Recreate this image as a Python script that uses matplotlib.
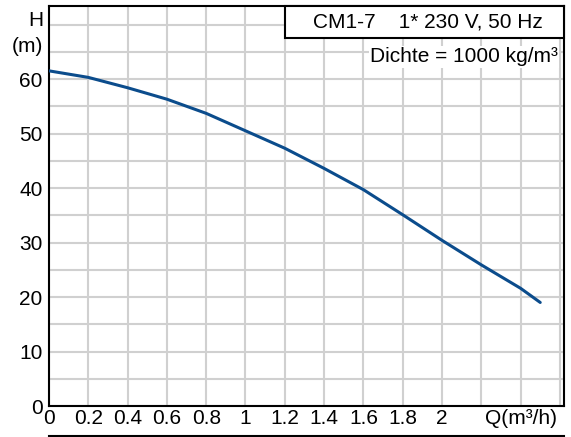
import matplotlib
matplotlib.use('Agg')
import matplotlib.pyplot as plt
from matplotlib.lines import Line2D
from matplotlib.patches import Rectangle

plt.rcParams['font.family'] = ['Liberation Sans', 'DejaVu Sans']
plt.rcParams['font.size'] = 15

# Kennlinie CM1-7
q = [0, 0.2, 0.4, 0.6, 0.8, 1.0, 1.2, 1.4, 1.6, 1.8, 2.0, 2.2, 2.4, 2.5]
h = [61.5, 60.3, 58.4, 56.3, 53.7, 50.5, 47.3, 43.6, 39.7, 35.1, 30.4, 25.9, 21.6, 19.0]

xTicks = [0, 0.2, 0.4, 0.6, 0.8, 1.0, 1.2, 1.4, 1.6, 1.8, 2.0, 2.2, 2.4, 2.6]
xLabels = ['0', '0.2', '0.4', '0.6', '0.8', '1', '1.2', '1.4', '1.6', '1.8', '2', '', 'Q(m³/h)', '']
yTicks = [0, 5, 10, 15, 20, 25, 30, 35, 40, 45, 50, 55, 60, 65, 70]
yLabels = ['0', '', '10', '', '20', '', '30', '', '40', '', '50', '', '60', '', '']

title = 'CM1-7    1* 230 V, 50 Hz'
density = 'Dichte = 1000 kg/m³'

W, H = 571, 437
fig = plt.figure(figsize=(W / 100, H / 100), dpi=100)
ax = fig.add_axes([49 / W, (H - 406) / H, (564 - 49) / W, (406 - 6) / H])

ax.plot(q, h, color='#0b4c8c', lw=2.2, solid_capstyle='round', zorder=3)

ax.set_xlim(0, 2.621)
ax.set_ylim(0, 73.4)
ax.set_xticks(xTicks)
ax.set_xticklabels(xLabels)
ax.set_yticks(yTicks)
ax.set_yticklabels(yLabels)
ax.tick_params(axis='y', length=0, pad=4.5, labelsize=15)
ax.tick_params(axis='x', length=0, pad=2.5, labelsize=15)
ax.grid(True, color='#d0d0d0', lw=1.5, zorder=0)
ax.set_axisbelow(True)
for s in ax.spines.values():
    s.set_linewidth(1.5)
    s.set_color('black')

# H (m) oben links
fig.text(43 / W, 1 - 20 / H, 'H', ha='right', va='center', fontsize=15)
fig.text(43 / W, 1 - 46 / H, '(m)', ha='right', va='center', fontsize=15)

# Kasten oben rechts
box = Rectangle((285 / W, 1 - 38 / H), (564 - 285) / W, 32 / H, transform=fig.transFigure,
                facecolor='white', edgecolor='black', lw=1.5, zorder=5)
fig.patches.append(box)
fig.text(428 / W, 1 - 22 / H, title, ha='center', va='center', fontsize=15, zorder=6)
fig.text(558 / W, 1 - 57 / H, density, ha='right', va='center', fontsize=15, zorder=6,
         bbox=dict(facecolor='white', edgecolor='none', pad=1))

# Linie ganz unten
fig.add_artist(Line2D([49 / W, 564 / W], [1.2 / H, 1.2 / H], color='black', lw=1.5))

fig.savefig('out.png', dpi=100)
